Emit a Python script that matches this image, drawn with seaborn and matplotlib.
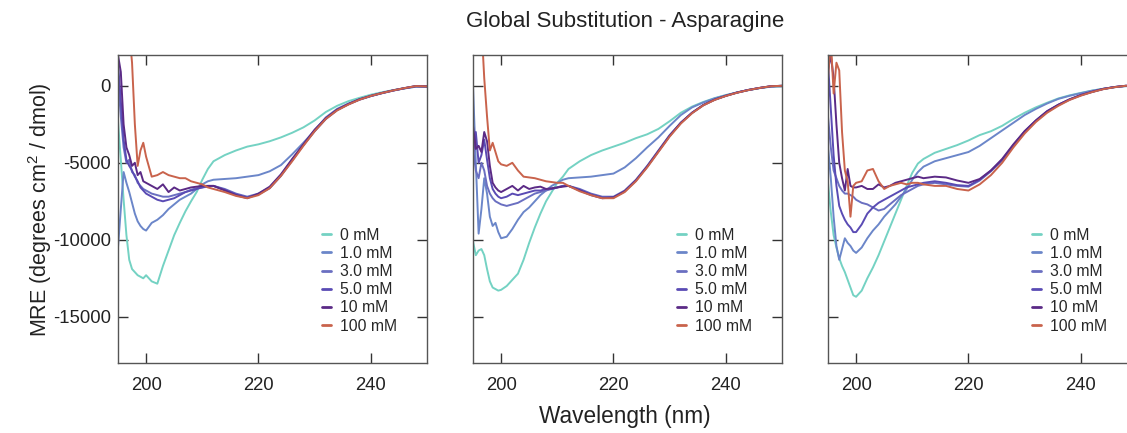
import numpy as np
import pandas as pd
import matplotlib
matplotlib.use("Agg")
import matplotlib.pyplot as plt
import seaborn as sns

wavelength = [195, 195.5, 196, 196.5, 197, 197.5, 198, 198.5, 199, 199.5, 200,
              201, 202, 203, 204, 205, 206, 207, 208, 209, 210, 211, 212,
              214, 216, 218, 220, 222, 224, 226, 228, 230, 232, 234, 236, 238, 240, 242, 244, 246, 248, 250]

concentrations = ["0 mM", "1.0 mM", "3.0 mM", "5.0 mM", "10 mM", "100 mM"]
colors = ["#74d2c3", "#6b86c9", "#6a6fc1", "#5a4bb4", "#5b2a86", "#c9634c"]

p1_0 = [-2300, -4800, -7400, -9700, -11300, -11900, -12100, -12300, -12400, -12500, -12300,
        -12700, -12850, -11700, -10700, -9700, -8900, -8150, -7500, -6900, -6100, -5400, -4900,
        -4500, -4200, -3950, -3800, -3600, -3350, -3050, -2700, -2250, -1700, -1300, -1000, -780, -580, -420, -280, -160, -60, -50]
p1_1 = [-10500, -8000, -5600, -6300, -6900, -7600, -8300, -8800, -9100, -9300, -9400,
        -8900, -8700, -8400, -8000, -7700, -7400, -7200, -7000, -6700, -6400, -6200, -6100,
        -6050, -6000, -5900, -5800, -5550, -5150, -4450, -3700, -2900, -2050, -1500, -1150, -880, -660, -470, -300, -170, -60, -50]
p1_3 = [500, -2000, -4000, -5000, -4800, -5600, -5800, -6300, -6500, -6700, -6800,
        -7000, -7100, -7200, -7200, -7100, -7000, -6900, -6750, -6650, -6600, -6550, -6500,
        -6700, -7000, -7200, -7000, -6600, -5800, -4800, -3850, -2900, -2100, -1550, -1200, -880, -660, -470, -300, -150, -20, -40]
p1_5 = [1500, -1000, -3500, -4800, -5200, -5500, -5900, -6200, -6600, -6800, -7000,
        -7200, -7400, -7500, -7400, -7300, -7100, -6900, -6800, -6700, -6600, -6500, -6500,
        -6750, -7050, -7250, -7050, -6650, -5850, -4850, -3850, -2950, -2150, -1580, -1200, -900, -670, -480, -310, -160, -30, -40]
p1_10 = [2000, 900, -2500, -4000, -4500, -5200, -5000, -5800, -5600, -6200, -6300,
         -6500, -6700, -6400, -6900, -6600, -6800, -6700, -6600, -6550, -6500, -6500, -6500,
         -6800, -7100, -7300, -7000, -6550, -5750, -4750, -3800, -2850, -2100, -1550, -1180, -870, -650, -460, -290, -150, -20, -40]
p1_100 = [6000, 6000, 6000, 5000, 3500, 1500, -2500, -5200, -4200, -3700, -4600,
          -5900, -5800, -5600, -5800, -5900, -6000, -6000, -6200, -6300, -6400, -6600, -6700,
          -6900, -7150, -7300, -7100, -6650, -5850, -4900, -3900, -2950, -2150, -1600, -1220, -900, -660, -470, -300, -150, -20, -40]

p2_0 = [-10100, -11000, -10700, -10600, -11000, -11900, -12700, -13100, -13200, -13300, -13250,
        -13000, -12600, -12200, -11300, -10200, -9200, -8300, -7500, -6900, -6300, -5900, -5400,
        -4900, -4500, -4200, -3950, -3700, -3400, -3150, -2800, -2300, -1750, -1350, -1050, -800, -600, -430, -280, -150, -60, -30]
p2_1 = [0, -5000, -9600, -8000, -6000, -7000, -8500, -9100, -8900, -9500, -9900,
        -9800, -9300, -8700, -8200, -7900, -7500, -7100, -6800, -6500, -6300, -6100, -6000,
        -5950, -5900, -5800, -5700, -5300, -4700, -4000, -3350, -2600, -1900, -1400, -1080, -820, -620, -440, -280, -150, -50, -30]
p2_3 = [-4000, -5500, -6000, -5000, -5500, -6500, -7000, -7300, -7500, -7600, -7700,
        -7800, -7700, -7600, -7400, -7200, -7000, -6900, -6800, -6700, -6600, -6500, -6500,
        -6700, -7000, -7200, -7200, -6800, -6100, -5200, -4200, -3200, -2400, -1750, -1250, -900, -650, -430, -270, -140, -30, 0]
p2_5 = [-4500, -3000, -5000, -4500, -3500, -4800, -6000, -6700, -7000, -7200, -7300,
        -7200, -7000, -7100, -7000, -6900, -6800, -6800, -6700, -6700, -6600, -6500, -6500,
        -6750, -7050, -7250, -7250, -6850, -6150, -5250, -4250, -3250, -2400, -1750, -1250, -900, -650, -440, -270, -140, -30, 0]
p2_10 = [-2600, -4100, -3900, -4300, -3000, -3600, -5200, -6300, -6600, -6800, -6900,
         -6700, -6500, -6800, -6500, -6700, -6600, -6550, -6700, -6650, -6600, -6550, -6500,
         -6800, -7100, -7300, -7250, -6850, -6150, -5250, -4250, -3250, -2400, -1750, -1250, -900, -650, -440, -270, -140, -30, 0]
p2_100 = [6000, 6000, 6000, 4000, 500, -2000, -4200, -3700, -4300, -4900, -5100,
          -5200, -5000, -5500, -5900, -5950, -6000, -6100, -6200, -6250, -6300, -6300, -6500,
          -6850, -7100, -7300, -7300, -6900, -6200, -5300, -4300, -3300, -2450, -1780, -1270, -920, -660, -450, -280, -140, -30, 0]

p3_0 = [-6300, -8200, -9700, -10500, -11200, -11700, -12100, -12600, -13100, -13600, -13700,
        -13300, -12500, -11800, -11000, -10100, -9200, -8300, -7400, -6500, -5650, -5050, -4750,
        -4350, -4100, -3850, -3550, -3200, -2950, -2600, -2150, -1750, -1400, -1100, -820, -620, -460, -310, -190, -90, -20, -20]
p3_1 = [-3900, -6000, -8500, -10400, -11300, -10600, -9900, -10200, -10400, -10700, -10850,
        -10500, -9900, -9400, -9000, -8500, -8100, -7700, -7200, -6700, -6100, -5600, -5250,
        -4900, -4700, -4500, -4300, -3900, -3400, -2900, -2400, -1900, -1500, -1150, -850, -650, -480, -320, -200, -90, -20, -30]
p3_3 = [-2000, -4000, -5500, -6000, -6500, -6800, -7000, -7000, -7100, -7200, -7400,
        -7600, -7700, -7900, -8100, -8000, -7700, -7400, -7100, -6900, -6700, -6500, -6400,
        -6300, -6400, -6500, -6550, -6150, -5550, -4850, -3900, -3000, -2300, -1700, -1250, -900, -620, -400, -210, -80, 0, 0]
p3_5 = [1500, -1500, -4500, -6500, -7800, -8300, -8700, -9000, -9200, -9500, -9500,
        -9000, -8300, -7900, -7600, -7400, -7200, -7000, -6800, -6600, -6500, -6400, -6300,
        -6200, -6300, -6450, -6500, -6100, -5500, -4800, -3850, -2950, -2250, -1650, -1230, -880, -600, -390, -200, -80, 0, 0]
p3_10 = [1000, 2000, 500, -2500, -5000, -6000, -6800, -5400, -6500, -6600, -6600,
         -6500, -6700, -6700, -6400, -6600, -6500, -6300, -6200, -6100, -6000, -5900, -6000,
         -5900, -5950, -6150, -6300, -6050, -5500, -4750, -3800, -2950, -2250, -1650, -1230, -880, -600, -390, -200, -80, 0, 0]
p3_100 = [500, 3000, -500, 1500, 1000, -3000, -5500, -6200, -8500, -6500, -6300,
          -6200, -5500, -5400, -6200, -6700, -6500, -6400, -6300, -6400, -6300, -6300, -6400,
          -6500, -6500, -6700, -6800, -6400, -5800, -5000, -4000, -3100, -2350, -1750, -1300, -920, -640, -410, -220, -90, 0, 0]

panels = [
    [p1_0, p1_1, p1_3, p1_5, p1_10, p1_100],
    [p2_0, p2_1, p2_3, p2_5, p2_10, p2_100],
    [p3_0, p3_1, p3_3, p3_5, p3_10, p3_100],
]

sns.set_theme(style="ticks")
plt.rcParams["font.family"] = ["Liberation Sans", "DejaVu Sans"]
plt.rcParams["mathtext.fontset"] = "custom"
plt.rcParams["mathtext.rm"] = "Liberation Sans"
plt.rcParams["mathtext.it"] = "Liberation Sans"
plt.rcParams["axes.unicode_minus"] = False

W, H = 1127, 433
fig = plt.figure(figsize=(W / 100, H / 100), dpi=100)

lefts = [118, 473, 828]
ax_w = 309
ax_top, ax_bot = 55, 363

palette = dict(zip(concentrations, colors))

for i, (left, series) in enumerate(zip(lefts, panels)):
    ax = fig.add_axes([left / W, (H - ax_bot) / H, ax_w / W, (ax_bot - ax_top) / H])
    frames = []
    for conc, vals in zip(concentrations, series):
        frames.append(pd.DataFrame({"wl": wavelength, "mre": vals, "conc": conc}))
    df = pd.concat(frames, ignore_index=True)
    sns.lineplot(data=df, x="wl", y="mre", hue="conc", hue_order=concentrations,
                 palette=palette, estimator=None, sort=False, linewidth=1.4,
                 ax=ax, legend=True)
    ax.set_xlim(195, 250)
    ax.set_ylim(-18000, 2000)
    ax.set_xticks([200, 220, 240])
    ax.set_yticks([0, -5000, -10000, -15000])
    ax.tick_params(direction="in", length=7, width=1, top=True, right=True,
                   labelsize=13.3, colors="#333333", labelcolor="#222222")
    ax.tick_params(axis="x", pad=10)
    ax.tick_params(axis="y", pad=5)
    for sp in ax.spines.values():
        sp.set_color("#555555")
        sp.set_linewidth(1.0)
    ax.set_xlabel("")
    ax.set_ylabel("")
    if i > 0:
        ax.set_yticklabels([])
    leg = ax.legend(loc="lower right", bbox_to_anchor=(0.94, 0.06), frameon=False,
                    fontsize=11.3, handlelength=0.6, handletextpad=0.6,
                    labelspacing=0.2, borderpad=0.2)
    for line in leg.get_lines():
        line.set_linewidth(2.0)

fig.text(625 / W, 1 - 22 / H, "Global Substitution - Asparagine", ha="center", va="center",
         fontsize=16, color="#222222")
fig.text(625 / W, 1 - 417 / H, "Wavelength (nm)", ha="center", va="center",
         fontsize=16.3, color="#222222")
fig.text(40 / W, 1 - 210 / H, "MRE (degrees cm$^2$ / dmol)", ha="center", va="center",
         rotation=90, fontsize=15.5, color="#222222")

fig.savefig("out.png", dpi=100)
